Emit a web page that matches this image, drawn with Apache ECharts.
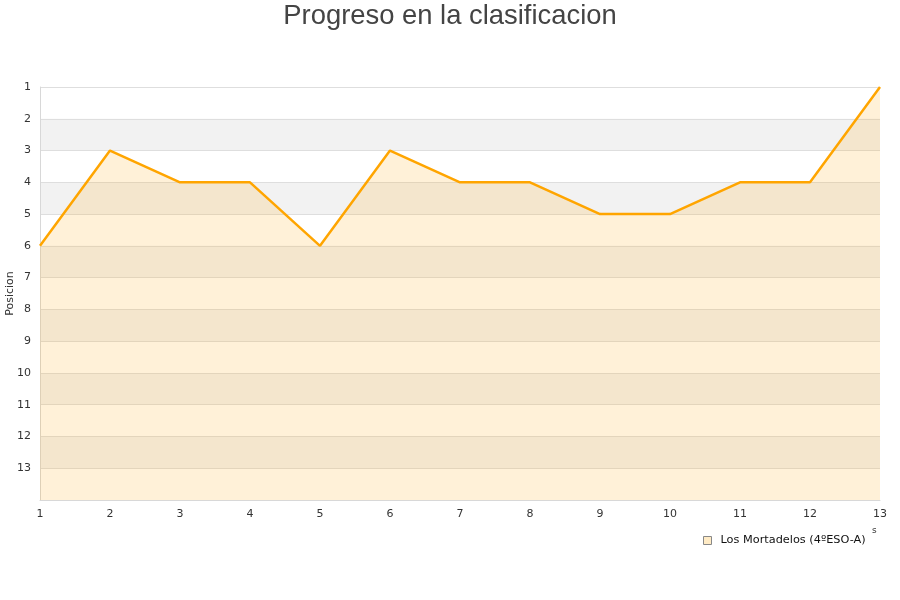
<!DOCTYPE html>
<html>
<head>
<meta charset="utf-8">
<script src="https://cdn.jsdelivr.net/npm/echarts@6/dist/echarts.min.js"></script>
<style>html,body{margin:0;padding:0;background:#fff;}#c{width:900px;height:600px;}</style>
</head>
<body>
<div id="c"></div>
<script>
const titleText = 'Progreso en la clasificacion';
const categories = ['1','2','3','4','5','6','7','8','9','10','11','12','13'];
const seriesName = 'Los Mortadelos (4ºESO-A)';
const positions = [6, 3, 4, 4, 6, 3, 4, 4, 5, 5, 4, 4, 1];
const yAxisName = 'Posicion';

const chart = echarts.init(document.getElementById('c'), null, {renderer: 'canvas'});
chart.setOption({
  animation: false,
  backgroundColor: '#ffffff',
  title: {
    text: titleText,
    left: 'center',
    top: -2,
    textStyle: {fontFamily: 'Liberation Sans', fontSize: 27.4, fontWeight: 'normal', color: '#444'}
  },
  grid: {left: 40, right: 20, top: 87, bottom: 100, containLabel: false, outerBoundsMode: 'none'},
  legend: {
    left: 698, top: 530,
    icon: 'rect', itemWidth: 8, itemHeight: 8, itemGap: 10,
    textStyle: {fontFamily: 'DejaVu Sans', fontSize: 11.3, color: '#111', padding: [0, 0, 0, 4]},
    itemStyle: {color: '#ffebc5', borderColor: '#888', borderWidth: 1},
    data: [seriesName]
  },
  graphic: [
    {type: 'text', left: 872, top: 526, style: {text: 's', fontFamily: 'DejaVu Sans', fontSize: 9, fill: '#333'}}
  ],
  xAxis: {
    type: 'category',
    data: categories,
    boundaryGap: false,
    axisLine: {show: true, lineStyle: {color: '#d8d8d8'}},
    axisTick: {show: false},
    axisLabel: {fontFamily: 'DejaVu Sans', fontSize: 11, color: '#333', margin: 9},
    splitLine: {show: false}
  },
  yAxis: {
    type: 'value',
    inverse: true,
    min: 1, max: 14, interval: 1,
    name: yAxisName,
    nameLocation: 'middle',
    nameGap: 24,
    nameMoveOverlap: false,
    nameTextStyle: {fontFamily: 'DejaVu Sans', fontSize: 11, color: '#333'},
    axisLine: {show: true, lineStyle: {color: '#d8d8d8'}},
    axisTick: {show: false},
    axisLabel: {
      fontFamily: 'DejaVu Sans', fontSize: 11, color: '#333', margin: 9,
      formatter: v => (v >= 14 ? '' : String(v))
    },
    splitLine: {show: true, lineStyle: {color: '#dedede'}},
    splitArea: {show: true, areaStyle: {color: ['#ffffff', '#f2f2f2']}}
  },
  series: [{
    name: seriesName,
    type: 'line',
    data: positions,
    symbol: 'none',
    lineStyle: {color: '#ffa500', width: 2.5},
    itemStyle: {color: '#ffebc5'},
    areaStyle: {color: 'rgba(255,165,0,0.22)', origin: 'end'}
  }]
});
</script>
</body>
</html>
